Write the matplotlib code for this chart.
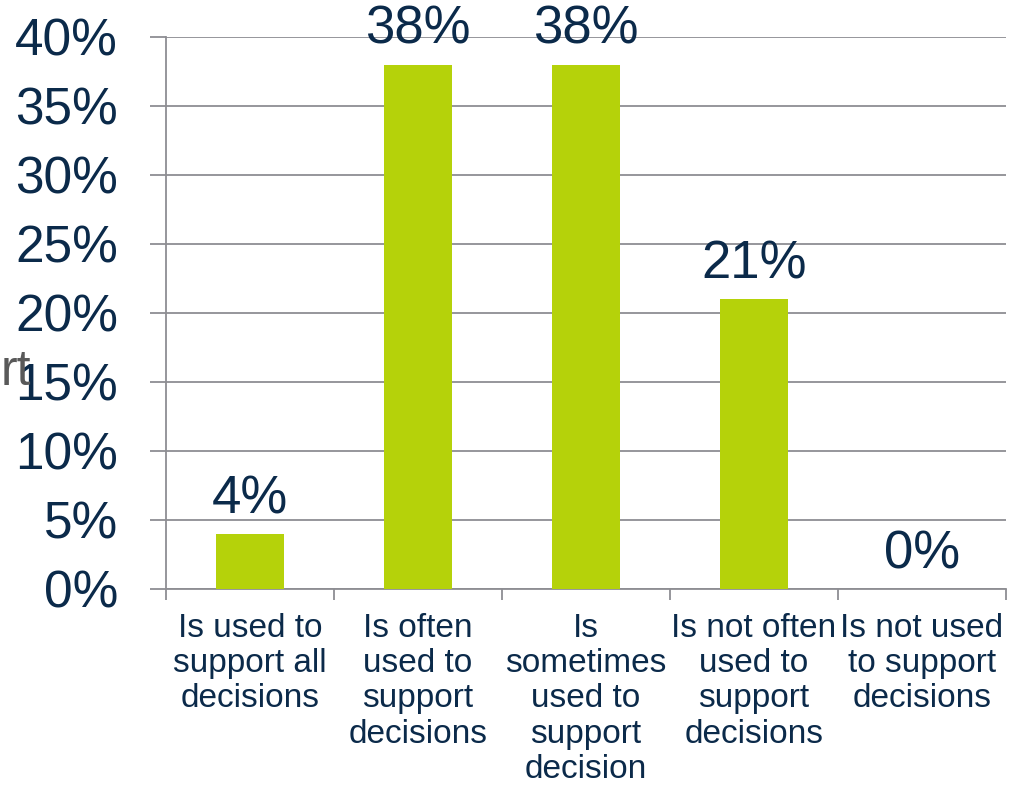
import matplotlib.pyplot as plt
import numpy as np
from matplotlib.ticker import FixedLocator, PercentFormatter

# ---- DATI ----
categories = [
    "Is used to\nsupport all\ndecisions",
    "Is often\nused to\nsupport\ndecisions",
    "Is\nsometimes\nused to\nsupport\ndecision",
    "Is not often\nused to\nsupport\ndecisions",
    "Is not used\nto support\ndecisions",
]
values = [4, 38, 38, 21, 0]
y_ticks = [0, 5, 10, 15, 20, 25, 30, 35, 40]

bar_color = "#B5D20A"
text_color = "#0B2A4A"
grid_color = "#8E8E93"

plt.rcParams["font.family"] = ["Liberation Sans", "DejaVu Sans"]

fig = plt.figure(figsize=(10.11, 7.87), dpi=100)
ax = fig.add_axes([0.1642, 0.2516, 0.8308, 0.7014])

x = np.arange(len(categories))
bars = ax.bar(x, values, width=0.4, color=bar_color, zorder=3)

# etichette valori
for bar, v in zip(bars, values):
    ax.annotate(f"{v}%", (bar.get_x() + bar.get_width() / 2, v),
                xytext=(0, 7), textcoords="offset points",
                ha="center", va="bottom", fontsize=38, color=text_color)

ax.set_xlim(-0.5, len(categories) - 0.5)
ax.set_ylim(0, 40)
ax.set_yticks(y_ticks)
ax.yaxis.set_major_formatter(PercentFormatter(decimals=0))
ax.yaxis.grid(True, color=grid_color, linewidth=1.3, zorder=0)

ax.set_xticks(x)
ax.set_xticklabels(categories, fontsize=24, color=text_color, linespacing=1.18)
ax.xaxis.set_minor_locator(FixedLocator(np.arange(len(categories) + 1) - 0.5))
ax.tick_params(axis="x", which="major", length=0, pad=17)
ax.tick_params(axis="x", which="minor", length=8, width=1.3, color=grid_color)
ax.tick_params(axis="y", length=11.5, width=1.3, color=grid_color, pad=23,
               labelsize=37, labelcolor=text_color)

for side in ["top", "right"]:
    ax.spines[side].set_visible(False)
for side in ["left", "bottom"]:
    ax.spines[side].set_color(grid_color)
    ax.spines[side].set_linewidth(1.3)

# titolo asse tagliato a sinistra
fig.text(31 / 1011, 1 - 372 / 787, "rt", ha="right", va="center",
         fontsize=36, color="#595959")

fig.savefig("out.png", dpi=100)
